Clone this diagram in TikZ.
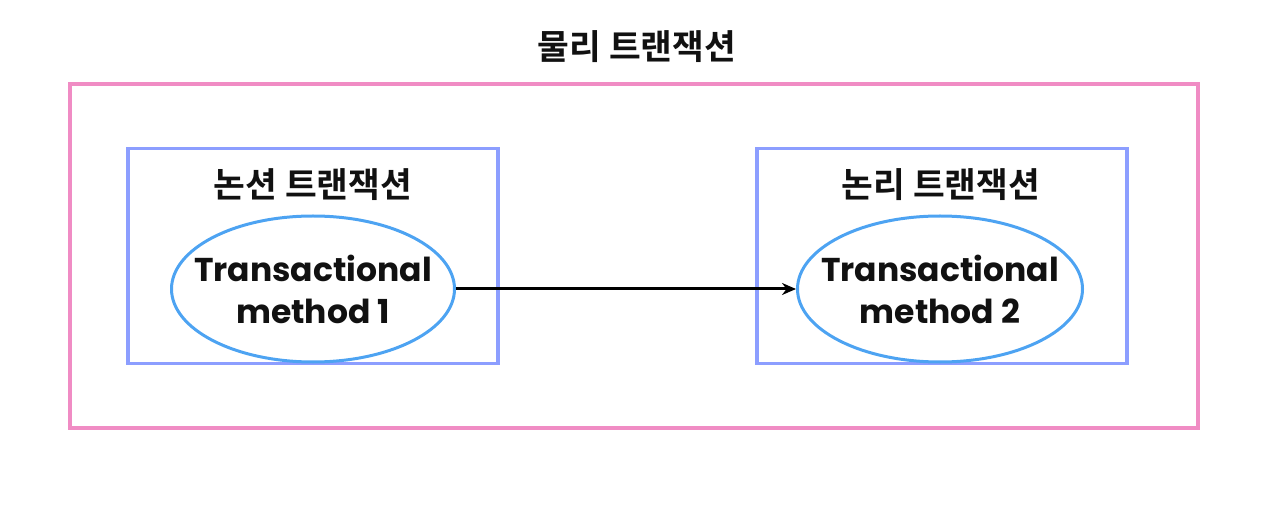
\documentclass[tikz,border=0pt]{standalone}
\usepackage{fontspec}
\usepackage{xcolor}
\usepackage{tikz}
\usetikzlibrary{arrows.meta,shapes.geometric}
\setmainfont{Poppins}
\newfontfamily\krfont{Noto Sans CJK KR Bold}
\definecolor{pinkO}{HTML}{F08CC4}
\definecolor{blueB}{HTML}{8C9EFF}
\definecolor{blueE}{HTML}{4DA3F2}
\definecolor{inkT}{HTML}{111111}

\begin{document}
\begin{tikzpicture}[>=Stealth,x=1pt,y=-1pt]
  \useasboundingbox (0,0) rectangle (1268,510);
  % outer box
  \node[draw=pinkO,line width=3.5pt,minimum width=1128pt,minimum height=344pt,inner sep=0pt]
        (phys) at (634,256) {};
  \node[text=inkT,font=\krfont\fontsize{34.5}{38}\selectfont] (physlbl) at (637,47) {물리 트랜잭션};
  % inner boxes
  \node[draw=blueB,line width=3.5pt,minimum width=370pt,minimum height=215pt,inner sep=0pt]
        (lbox) at (313,256) {};
  \node[draw=blueB,line width=3.5pt,minimum width=370pt,minimum height=215pt,inner sep=0pt]
        (rbox) at (942,256) {};
  \node[text=inkT,font=\krfont\fontsize{34.5}{38}\selectfont] (llbl) at (313,185) {논션 트랜잭션};
  \node[text=inkT,font=\krfont\fontsize{34.5}{38}\selectfont] (rlbl) at (941,185) {논리 트랜잭션};
  % methods
  \node[ellipse,draw=blueE,line width=3pt,minimum width=283pt,minimum height=146pt,inner sep=0pt]
        (m1) at (313,289) {};
  \node[ellipse,draw=blueE,line width=3pt,minimum width=285pt,minimum height=146pt,inner sep=0pt]
        (m2) at (940,289) {};
  \node[align=center,text=inkT,font=\fontsize{33}{42}\selectfont\bfseries] (m1txt) at (m1) {Transactional\\method 1};
  \node[align=center,text=inkT,font=\fontsize{33}{42}\selectfont\bfseries] (m2txt) at (m2) {Transactional\\method 2};
  \draw[-{Stealth[length=14pt,width=12pt]},line width=3pt,black] (m1.east) -- (m2.west);
\end{tikzpicture}
\end{document}
